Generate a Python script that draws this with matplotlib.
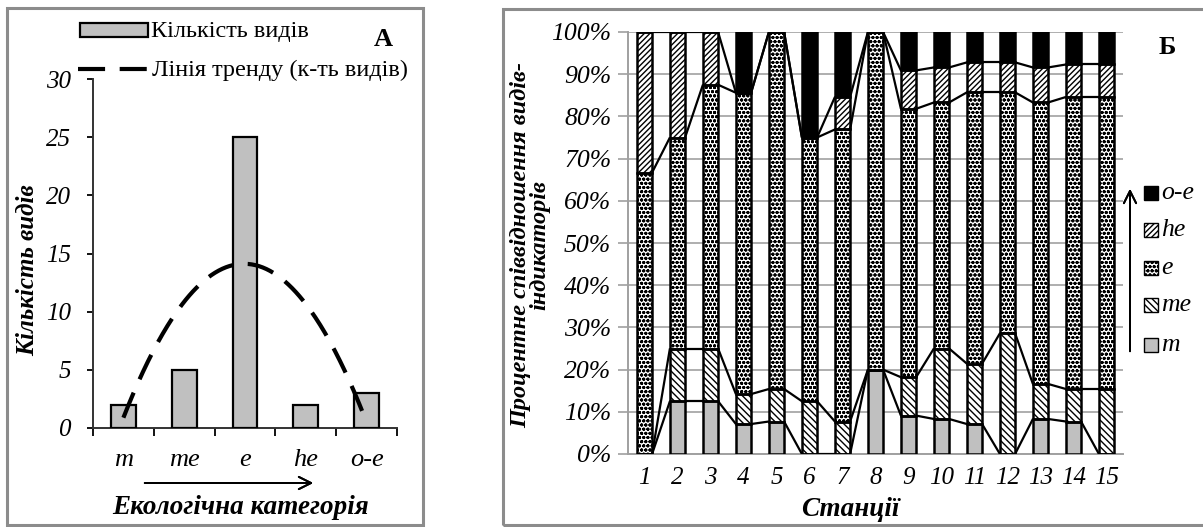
import numpy as np
import matplotlib
matplotlib.use('Agg')
import matplotlib.pyplot as plt
from matplotlib.patches import Rectangle
from matplotlib.lines import Line2D

plt.rcParams['font.family'] = ['Liberation Serif', 'DejaVu Serif']
plt.rcParams['hatch.linewidth'] = 1.0

# panel A: number of species per ecological category
categories = ['m', 'me', 'e', 'he', 'o-e']
species_count = [2, 5, 25, 2, 3]

# panel B: share of indicator species per station, %
stations = [str(i) for i in range(1, 16)]
share_m = [0, 12.5, 12.5, 7.1, 7.7, 0, 0, 20, 9.1, 8.3, 7.1, 0, 8.3, 7.7, 0]
share_me = [0, 12.5, 12.5, 7.1, 7.7, 12.5, 7.7, 0, 9.1, 16.7, 14.3, 28.6, 8.3, 7.7, 15.4]
share_e = [66.7, 50, 62.5, 71.4, 84.6, 62.5, 69.2, 80, 63.6, 58.3, 64.3, 57.1, 66.7, 69.2, 69.2]
share_he = [33.3, 25, 12.5, 0, 0, 0, 7.7, 0, 9.1, 8.3, 7.1, 7.1, 8.3, 7.7, 7.7]
share_oe = [0, 0, 0, 14.3, 0, 25, 15.4, 0, 9.1, 8.3, 7.1, 7.1, 8.3, 7.7, 7.7]

W, H = 1203, 527
fig = plt.figure(figsize=(W / 100, H / 100), dpi=100)


def fx(x):
    return x / W


def fy(y):
    return 1 - y / H


def box(x0, y0, x1, y1):
    return [fx(x0), fy(y1), fx(x1) - fx(x0), fy(y0) - fy(y1)]


# chart-area frames
for x0, y0, x1, y1 in [(7, 8, 423, 525), (503, 9, 1210, 525)]:
    fig.patches.append(Rectangle((fx(x0), fy(y1)), fx(x1) - fx(x0), fy(y0) - fy(y1),
                                 transform=fig.transFigure, fill=False,
                                 edgecolor='#8c8c8c', linewidth=2.2))

trend_style = (0, (6.5, 3.5))

# ---------- panel A ----------
ax1 = fig.add_axes(box(93, 79, 397, 428))
x = np.arange(1, len(categories) + 1)
ax1.bar(x, species_count, width=0.41, color='#c0c0c0', edgecolor='black', linewidth=1.6, zorder=3)
coef = np.polyfit(x, species_count, 2)
xs = np.linspace(1, len(categories), 200)
ax1.plot(xs, np.polyval(coef, xs), color='black', linewidth=3, linestyle=trend_style, zorder=4)

ax1.set_xlim(0.5, len(categories) + 0.5)
ax1.set_ylim(0, 30)
ax1.set_yticks(range(0, 31, 5))
ax1.set_xticks(np.arange(0.5, len(categories) + 1, 1))
ax1.set_xticklabels([])
ax1.set_xticks(x, minor=True)
ax1.set_xticklabels(categories, minor=True, fontsize=19, style='italic')
ax1.tick_params(axis='x', which='major', direction='out', length=6, width=1.3)
ax1.tick_params(axis='x', which='minor', length=0, pad=15)
ax1.tick_params(axis='y', direction='out', length=4, width=1.3, pad=12, labelsize=18)
for lab in ax1.get_yticklabels():
    lab.set_style('italic')
for side in ['top', 'right']:
    ax1.spines[side].set_visible(False)
for side in ['left', 'bottom']:
    ax1.spines[side].set_linewidth(1.4)
    ax1.spines[side].set_color('#333333')

fig.text(fx(28), fy(270), 'Кількість видів', rotation=90, ha='center', va='center',
         fontsize=18, fontweight='bold', style='italic')
fig.text(fx(241), fy(507), 'Екологічна категорія', ha='center', va='center',
         fontsize=19.5, fontweight='bold', style='italic')
fig.add_artist(plt.annotate('', xy=(fx(316), fy(483)), xytext=(fx(142), fy(483)),
                            xycoords='figure fraction',
                            arrowprops=dict(arrowstyle='->', lw=1.4, mutation_scale=22)))

# legend of panel A
fig.patches.append(Rectangle((fx(80), fy(37)), fx(148) - fx(80), fy(23) - fy(37),
                             transform=fig.transFigure, facecolor='#c0c0c0',
                             edgecolor='black', linewidth=1.6))
fig.text(fx(151), fy(31), 'Кількість видів', ha='left', va='center', fontsize=17.5)
fig.add_artist(Line2D([fx(78), fx(148)], [fy(69), fy(69)], transform=fig.transFigure,
                      color='black', linewidth=3, linestyle=trend_style))
fig.text(fx(152), fy(70), 'Лінія тренду (к-ть видів)', ha='left', va='center', fontsize=17.5)
fig.text(fx(383), fy(40), 'А', ha='center', va='center', fontsize=19, fontweight='bold')

# ---------- panel B ----------
ax2 = fig.add_axes(box(628, 32, 1123, 454))
pos = np.arange(1, len(stations) + 1)
bw = 0.46
layers = [
    (share_m, dict(facecolor='#c0c0c0')),
    (share_me, dict(facecolor='white', hatch='\\\\\\\\\\')),
    (share_e, dict(facecolor='white', hatch='oooo')),
    (share_he, dict(facecolor='white', hatch='//////')),
    (share_oe, dict(facecolor='black')),
]
bottom = np.zeros(len(stations))
tops = []
for values, style in layers:
    values = np.array(values, dtype=float)
    ax2.bar(pos, values, bw, bottom=bottom, edgecolor='black', linewidth=0, zorder=3, **style)
    ax2.bar(pos, values, bw, bottom=bottom, fill=False, edgecolor='black', linewidth=1.8, zorder=4)
    bottom = bottom + values
    tops.append(bottom.copy())

# series lines between neighbouring bars
for top in tops[:-1]:
    for i in range(len(stations) - 1):
        ax2.plot([pos[i] + bw / 2, pos[i + 1] - bw / 2], [top[i], top[i + 1]],
                 color='black', linewidth=1.6, zorder=5, solid_capstyle='butt')

ax2.set_xlim(0.5, len(stations) + 0.5)
ax2.set_ylim(0, 100)
ax2.set_yticks(range(0, 101, 10))
ax2.set_yticklabels([f'{v}%' for v in range(0, 101, 10)], fontsize=18.5, style='italic')
ax2.set_xticks(pos)
ax2.set_xticklabels(stations, fontsize=18, style='italic')
ax2.tick_params(axis='x', length=0, pad=9)
ax2.tick_params(axis='y', direction='out', length=7, width=1.2, color='#a0a0a0', pad=5)
ax2.yaxis.grid(True, color='#a8a8a8', linewidth=1.3, zorder=0)
ax2.set_axisbelow(True)
for side in ['top', 'right']:
    ax2.spines[side].set_visible(False)
for side in ['left', 'bottom']:
    ax2.spines[side].set_color('#a0a0a0')
    ax2.spines[side].set_linewidth(1.4)

fig.text(fx(530), fy(245), 'Процентне співвідношення видів-\nіндикаторів', rotation=90,
         ha='center', va='center', multialignment='center', linespacing=0.9,
         fontsize=17.5, fontweight='bold', style='italic')
fig.text(fx(850), fy(509), 'Станції', ha='center', va='center',
         fontsize=19.5, fontweight='bold', style='italic')
fig.text(fx(1167), fy(48), 'Б', ha='center', va='center', fontsize=19, fontweight='bold')

# legend of panel B, listed top to bottom
legend_rows = [('o-e', 193), ('he', 230), ('e', 268), ('me', 305), ('m', 345)]
legend_styles = {name: st for name, (_, st) in zip(categories, layers)}
for name, yy in legend_rows:
    st = dict(legend_styles[name])
    fig.patches.append(Rectangle((fx(1144), fy(yy + 7)), fx(14), 14 / H,
                                 transform=fig.transFigure, edgecolor='black',
                                 linewidth=1.0, **st))
    fig.text(fx(1161), fy(yy), name, ha='left', va='center', fontsize=18.5, style='italic')
fig.add_artist(plt.annotate('', xy=(fx(1130), fy(186)), xytext=(fx(1130), fy(354)),
                            xycoords='figure fraction',
                            arrowprops=dict(arrowstyle='->', lw=1.4, mutation_scale=22)))

fig.savefig('out.png', dpi=100)
